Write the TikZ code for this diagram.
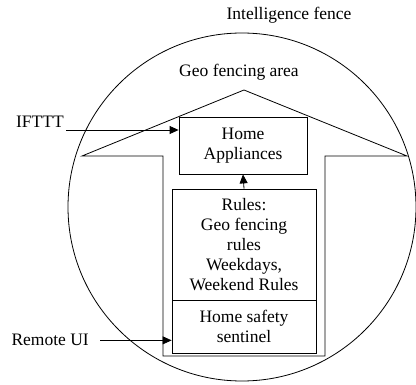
\documentclass[tikz,border=0pt]{standalone}
\usepackage{fontspec}
\setmainfont{Liberation Serif}
\usetikzlibrary{arrows.meta,calc,positioning}

\begin{document}
\begin{tikzpicture}[x=1pt, y=-1pt, every node/.style={font=\fontsize{17.5}{20}\selectfont}]
    \tikzset{BoxStyle/.style = {draw, line width=0.8pt, align=center, inner sep=0pt},
      LabelStyle/.style = {inner sep=2pt},
      EdgeStyle/.style = {-{Triangle[length=9pt,width=8pt]}, line width=0.8pt}}
    \useasboundingbox (0,0) rectangle (416,385);
    % fences
    \draw[line width=0.8pt] (242,207) circle (174);
    \draw[line width=0.8pt] (82,156) -- (244,90) -- (407,156) -- (325,156)
      -- (325,356) -- (163,356) -- (163,156) -- cycle;
    \node[LabelStyle, anchor=base] (fence) at (289,20) {Intelligence fence};
    \node[LabelStyle, anchor=base] (area) at (239,77) {Geo fencing area};
    % boxes
    \node[BoxStyle, minimum width=128pt, minimum height=57pt] (App) at (243,145.5) {Home\\Appliances};
    \node[BoxStyle, minimum width=144pt, minimum height=111pt] (Rules) at (244,244.5)
      {Rules:\\Geo fencing\\rules\\Weekdays,\\Weekend Rules};
    \node[BoxStyle, minimum width=144pt, minimum height=53pt] (Safety) at (244,326.5) {Home safety\\sentinel};
    \draw[EdgeStyle] (Rules.north) -- (App.south);
    % inputs
    \node[LabelStyle, anchor=base east] (ifttt) at (66,128) {IFTTT};
    \node[LabelStyle, anchor=base east] (remote) at (91,346) {Remote UI};
    \draw[EdgeStyle] ([yshift=-2pt]ifttt.base east) -- ([yshift=-2pt]App.west |- ifttt.base east);
    \draw[EdgeStyle] ([xshift=9pt]remote.east) -- (Safety.west |- remote.east);
  \end{tikzpicture}
\end{document}
